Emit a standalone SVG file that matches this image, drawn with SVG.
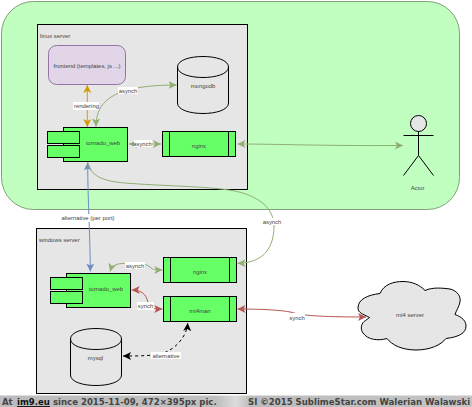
<svg xmlns="http://www.w3.org/2000/svg" width="472" height="407" viewBox="0 0 472 407">
<style>
text{font-family:"Liberation Sans",Arial,sans-serif;font-size:5.9px;fill:#444;text-anchor:middle}
.k{stroke:#000;stroke-width:1}
.box{fill:#e6e6e6;stroke:#000;stroke-width:1}
.g{fill:#66ff66;stroke:#000;stroke-width:1}
.c{fill:none;stroke-width:1}
.cg{stroke:#8fae72}
.cr{stroke:#b85450}
.lbl{fill:#fff;stroke:none}
text.foot{font-family:"DejaVu Sans",sans-serif;font-size:9.5px;font-weight:bold;font-stretch:condensed;fill:#444;text-anchor:start}
</style>
<defs>
<marker id="ag" markerWidth="9" markerHeight="9" refX="8" refY="4" orient="auto-start-reverse" markerUnits="userSpaceOnUse"><path d="M0,0L8,4L0,8L2,4Z" fill="#8fae72"/></marker>
<marker id="ar" markerWidth="9" markerHeight="9" refX="8" refY="4" orient="auto-start-reverse" markerUnits="userSpaceOnUse"><path d="M0,0L8,4L0,8L2,4Z" fill="#b85450"/></marker>
<marker id="ao" markerWidth="9" markerHeight="9" refX="8" refY="4" orient="auto-start-reverse" markerUnits="userSpaceOnUse"><path d="M0,0L8,4L0,8L2,4Z" fill="#d79b00"/></marker>
<marker id="ab" markerWidth="9" markerHeight="9" refX="8" refY="4" orient="auto-start-reverse" markerUnits="userSpaceOnUse"><path d="M0,0L8,4L0,8L2,4Z" fill="#6c8ebf"/></marker>
<marker id="ak" markerWidth="9" markerHeight="9" refX="8" refY="4" orient="auto-start-reverse" markerUnits="userSpaceOnUse"><path d="M0,0L8,4L0,8L2,4Z" fill="#000"/></marker>
<linearGradient id="bar" x1="0" x2="1" y1="0" y2="0"><stop offset="0" stop-color="#bcbcbc"/><stop offset="0.46" stop-color="#c0c0c0"/><stop offset="0.5" stop-color="#dcdcdc"/><stop offset="0.53" stop-color="#bcbcbc"/><stop offset="1" stop-color="#c4c4c4"/></linearGradient>
</defs>
<rect width="472" height="407" fill="#fff"/>
<g id="zone"><rect x="1.500" y="1.500" width="458" height="208" rx="32" fill="#c0ffc0" stroke="#82a078"/></g>
<g id="linux-server"><rect class="box" x="37.500" y="24.500" width="210" height="165"/><text x="40" y="38" style="text-anchor:start">linux server</text></g>
<g id="windows-server"><rect class="box" x="36.500" y="228.500" width="210" height="165"/><text x="39" y="241.500" style="text-anchor:start">windows server</text></g>
<g id="frontend"><rect x="48.500" y="45.500" width="77" height="39" rx="8" fill="#e1d5e7" stroke="#9673a6"/><text x="87" y="68">frontend (templates, js ...)</text></g>
<g id="mongodb"><path class="box" d="M177.500,67C177.500,53 228.500,53 228.500,67V103C228.500,117 177.500,117 177.500,103Z"/><path d="M177.500,67C177.500,81 228.500,81 228.500,67" fill="none" stroke="#000"/><text x="203" y="88">mongodb</text></g>
<g id="tornado1"><rect class="g" x="63.500" y="127.500" width="64" height="34"/><rect class="g" x="47.500" y="131.500" width="32" height="12"/><rect class="g" x="47.500" y="145.500" width="32" height="12"/><text x="103" y="145">tornado_web</text></g>
<g id="nginx1"><rect class="g" x="162.500" y="131.500" width="73" height="25"/><path class="k" d="M169.500,131.500V156.500M228.500,131.500V156.500"/><text x="199" y="147.500">nginx</text></g>
<g id="actor"><circle cx="418.500" cy="123.500" r="8" fill="#e6e6e6" stroke="#000"/><path class="k" fill="none" d="M418.500,131.500V155.500M403.500,135.500H433.500M403.500,175.500L418.500,155.500L433.500,175.500"/><text x="417.500" y="189.500">Actor</text></g>
<g id="tornado2"><rect class="g" x="66.500" y="273.500" width="64" height="34"/><rect class="g" x="50.500" y="277.500" width="32" height="12"/><rect class="g" x="50.500" y="291.500" width="32" height="12"/><text x="106" y="291">tornado_web</text></g>
<g id="nginx2"><rect class="g" x="163.500" y="257.500" width="73" height="25"/><path class="k" d="M170.500,257.500V282.500M229.500,257.500V282.500"/><text x="200" y="273.500">nginx</text></g>
<g id="mt4man"><rect class="g" x="163.500" y="296.500" width="73" height="25"/><path class="k" d="M170.500,296.500V321.500M229.500,296.500V321.500"/><text x="200" y="312.500">mt4man</text></g>
<g id="mysql"><path class="box" d="M70.500,339C70.500,325 121.500,325 121.500,339V375C121.500,389 70.500,389 70.500,375Z"/><path d="M70.500,339C70.500,353 121.500,353 121.500,339" fill="none" stroke="#000"/><text x="95.500" y="359.500">mysql</text></g>
<g id="mt4-server"><path fill="#e6e6e6" stroke="#000" d="M369.500,317.500C363,314 358,313 358,308C358,299 368,295 380,293.500C384,284 394,281.500 403,281.500C412,281.500 420,285 425,290.500C433,287 442,288 450,289C458,291 461,297 460,302C459,307 456,311 455,314.500C462,317 466,321 466,326C466,333 459,337 446,338.500C441,345 430,350 416,350C402,350 392,345 387,338.500C378,341 368,340 363,333C360,329 361,323 365.500,320.500Z"/><text x="410" y="317">mt4 server</text></g>
<g id="connectors">
<path class="c" stroke="#d79b00" d="M87.300,85V127" marker-start="url(#ao)" marker-end="url(#ao)"/>
<rect class="lbl" x="73" y="102" width="26" height="8"/><text x="86.500" y="108">rendering</text>
<path class="c cg" d="M96,126.500C96,100 115,85 176.500,85" marker-start="url(#ag)" marker-end="url(#ag)"/>
<rect class="lbl" x="118" y="87" width="20" height="7"/><text x="128" y="93">asynch</text>
<path class="c cg" d="M129,144H161" marker-start="url(#ag)" marker-end="url(#ag)"/>
<rect class="lbl" x="134" y="140" width="18" height="7"/><text x="142.500" y="146">asynch</text>
<path class="c cg" d="M237.500,144C280,144 320,146 403,145.500" marker-start="url(#ag)" marker-end="url(#ag)"/>
<path class="c" stroke="#6c8ebf" d="M87.700,162.500C87.700,200 90.300,240 90.300,271.500" marker-start="url(#ab)" marker-end="url(#ab)"/>
<rect class="lbl" x="60" y="214" width="56" height="8"/><text x="88" y="220">alternative (per port)</text>
<path class="c cg" d="M87.700,162.500C91,176 102,181 125,183C160,186 205,186 232,190.500C258,195 274,208 274,226C274,246 265,263 237.500,263.300" marker-end="url(#ag)"/>
<rect class="lbl" x="262" y="218" width="20" height="7"/><text x="272" y="224">asynch</text>
<path class="c cg" d="M110,271.500C112,265 118,263 126,263.500C140,264 145,263 150,267C153,270 155,270 162.300,270" marker-start="url(#ag)" marker-end="url(#ag)"/>
<rect class="lbl" x="125" y="262" width="20" height="7"/><text x="135" y="268">asynch</text>
<path class="c cr" d="M131.700,290C145,290 147,298 148,303C149,309 155,309 162.300,309" marker-start="url(#ar)" marker-end="url(#ar)"/>
<rect class="lbl" x="137" y="302" width="17" height="8"/><text x="145.500" y="307.500">synch</text>
<path class="c cr" d="M237.500,309C260,309 285,310 294,313C305,316.500 340,317 366,317" marker-start="url(#ar)" marker-end="url(#ar)"/>
<rect class="lbl" x="288" y="313" width="17" height="8"/><text x="297" y="319.500">synch</text>
<path class="c" stroke="#000" stroke-dasharray="3 3" d="M123,356C140,356 160,356 168,351C178,346 187,335 187.700,323" marker-start="url(#ak)" marker-end="url(#ak)"/>
<rect class="lbl" x="151" y="352" width="30" height="7"/><text x="166" y="357.500">alternative</text>
</g>
<g id="footer"><rect x="0" y="395.500" width="472" height="11.500" fill="url(#bar)"/><text class="foot" x="2" y="405">At</text><text class="foot" x="17" y="405" text-decoration="underline" style="fill:#111">im9.eu</text><text class="foot" x="53" y="405">since 2015-11-09, 472×395px pic.</text><text class="foot" x="248" y="405">SI ©2015 SublimeStar.com Walerian Walawski</text></g>
</svg>
